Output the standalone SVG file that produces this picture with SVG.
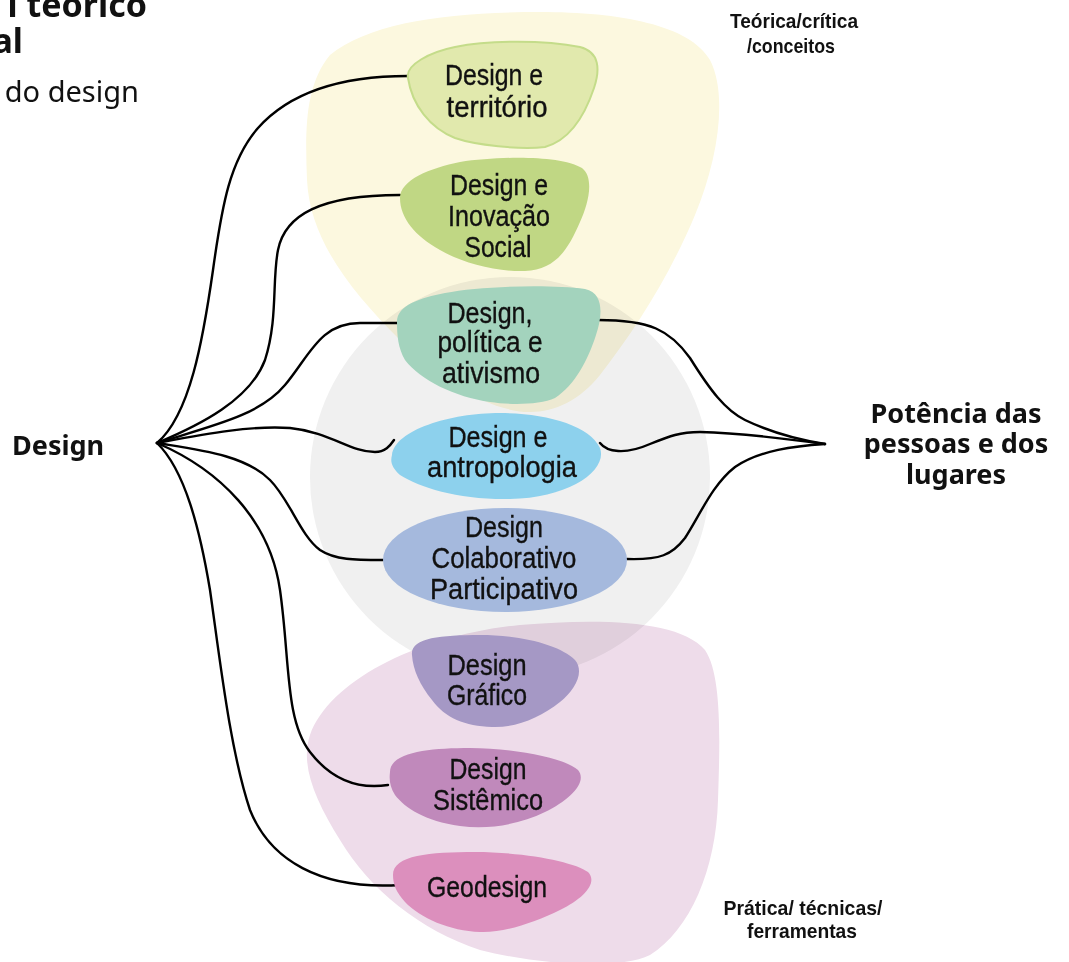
<svg xmlns="http://www.w3.org/2000/svg" width="1069" height="962" viewBox="0 0 1069 962">
  <style>
    .zone { mix-blend-mode: multiply; }
    .wire { fill: none; stroke: #000; stroke-width: 2.4; stroke-linecap: round; }
    .lbl { font-family: "Liberation Sans", "DejaVu Sans Condensed", sans-serif; font-stretch: condensed; font-size: 29px; fill: #111; stroke: #111; stroke-width: 0.35; text-anchor: middle; }
    .tag { font-family: "Liberation Sans", sans-serif; font-stretch: condensed; font-weight: bold; font-size: 21px; fill: #111; text-anchor: middle; }
    .big { font-family: "Noto Sans", "Open Sans", sans-serif; font-weight: bold; font-size: 27px; fill: #111; }
    .head { font-family: "Noto Sans", "Open Sans", sans-serif; fill: #111; text-anchor: end; }
  </style>

  <rect width="1069" height="962" fill="#ffffff"/>

  <!-- heading fragments at the top-left edge -->
  <g id="heading">
    <text class="head" x="147" y="17" font-size="34" font-weight="bold">l teórico</text>
    <text class="head" x="23" y="53" font-size="34" font-weight="bold">al</text>
    <text class="head" x="139" y="102" font-size="29">do design</text>
  </g>

  <!-- background zones -->
  <g id="zones">
    <circle class="zone" cx="510" cy="477" r="200" fill="#f0f0f0"/>
    <path class="zone" fill="#fcf8df" d="M330,55 C370,22 450,12 540,12 C620,12 690,25 710,60 C728,95 718,160 695,215 C670,275 635,330 600,375 C580,400 555,412 530,412 C490,412 440,380 400,340 C350,290 310,240 307,180 C305,130 305,85 330,55 Z"/>
    <path class="zone" fill="#eedcea" d="M310,735 C330,680 420,635 520,625 C600,618 680,620 705,650 C722,675 720,740 718,800 C716,870 690,930 650,955 C620,970 540,965 480,950 C420,930 370,890 340,840 C315,800 300,765 310,735 Z"/>
  </g>

  <!-- connectors -->
  <g id="connectors">
    <path class="wire" d="M157,443 C190,415 203,340 213,270 C222,205 230,160 258,128 C290,92 340,76 408,76"/>
    <path class="wire" d="M157,443 C200,425 250,400 265,360 C278,320 272,280 278,250 C285,215 320,195 400,195"/>
    <path class="wire" d="M157,443 C215,425 260,415 285,385 C310,355 320,323 360,323 L398,323"/>
    <path class="wire" d="M157,443 C200,435 250,425 290,428 C330,432 350,452 375,452 C385,452 390,446 394,440"/>
    <path class="wire" d="M157,443 C200,450 245,455 270,480 C290,500 300,535 320,550 C335,560 355,560 383,560"/>
    <path class="wire" d="M157,443 C220,470 270,520 280,590 C290,660 285,720 310,752 C330,778 355,790 388,785"/>
    <path class="wire" d="M157,443 C185,470 200,530 210,590 C220,660 230,750 250,810 C270,860 320,890 400,885"/>
    <path class="wire" d="M598,320 C650,320 670,330 690,358 C710,390 725,410 745,420 C770,432 800,440 825,444"/>
    <path class="wire" d="M600,443 C607,452 625,455 650,444 C670,436 680,432 700,432 C750,433 790,440 825,444"/>
    <path class="wire" d="M627,559 C660,560 672,555 685,538 C700,515 712,485 735,467 C760,450 795,446 825,444"/>
  </g>

  <g id="design">
    <text class="big" x="12" y="455" font-size="28">Design</text>
  </g>

  <g id="potencia">
    <text class="big" x="956" y="423" text-anchor="middle">Potência das</text>
    <text class="big" x="956" y="453" text-anchor="middle">pessoas e dos</text>
    <text class="big" x="956" y="484" text-anchor="middle">lugares</text>
  </g>

  <g id="teorica">
    <text class="tag" x="794" y="28" textLength="128" lengthAdjust="spacingAndGlyphs">Teórica/crítica</text>
    <text class="tag" x="791" y="53" textLength="88" lengthAdjust="spacingAndGlyphs">/conceitos</text>
  </g>

  <g id="pratica">
    <text class="tag" x="803" y="915" textLength="159" lengthAdjust="spacingAndGlyphs">Prática/ técnicas/</text>
    <text class="tag" x="802" y="938" textLength="110" lengthAdjust="spacingAndGlyphs">ferramentas</text>
  </g>

  <g id="territorio">
    <path fill="#e1e9ad" stroke="#c4dc8a" stroke-width="2" d="M408,78 C405,65 430,52 455,47 C490,40 545,40 580,47 C600,52 600,70 594,88 C585,115 570,140 545,147 C520,150 475,145 455,138 C430,128 412,105 408,78 Z"/>
    <text class="lbl" x="494" y="85" textLength="98" lengthAdjust="spacingAndGlyphs">Design e</text>
    <text class="lbl" x="497" y="117" textLength="101" lengthAdjust="spacingAndGlyphs">território</text>
  </g>

  <g id="inovacao">
    <path fill="#c0d784" d="M400,198 C400,180 430,168 460,162 C500,156 560,155 582,168 C595,178 588,205 580,222 C568,250 555,270 525,271 C495,272 460,262 440,250 C415,236 400,218 400,198 Z"/>
    <text class="lbl" x="499" y="195" textLength="98" lengthAdjust="spacingAndGlyphs">Design e</text>
    <text class="lbl" x="499" y="226" textLength="102" lengthAdjust="spacingAndGlyphs">Inovação</text>
    <text class="lbl" x="498" y="257" textLength="67" lengthAdjust="spacingAndGlyphs">Social</text>
  </g>

  <g id="politica">
    <path fill="#a3d3bd" d="M397,322 C397,305 420,298 445,293 C480,286 550,284 585,289 C605,293 602,318 596,335 C588,360 575,385 555,398 C540,405 510,405 490,402 C455,397 420,380 405,360 C398,348 397,335 397,322 Z"/>
    <text class="lbl" x="490" y="323" textLength="85" lengthAdjust="spacingAndGlyphs">Design,</text>
    <text class="lbl" x="490" y="352" textLength="105" lengthAdjust="spacingAndGlyphs">política e</text>
    <text class="lbl" x="491" y="383" textLength="98" lengthAdjust="spacingAndGlyphs">ativismo</text>
  </g>

  <g id="antropologia">
    <path fill="#8dd1ed" d="M392,455 C395,430 450,413 500,413 C545,413 590,425 600,448 C608,470 570,498 510,499 C460,500 420,488 400,475 C392,468 390,462 392,455 Z"/>
    <text class="lbl" x="498" y="447" textLength="99" lengthAdjust="spacingAndGlyphs">Design e</text>
    <text class="lbl" x="502" y="477" textLength="150" lengthAdjust="spacingAndGlyphs">antropologia</text>
  </g>

  <g id="colaborativo">
    <ellipse cx="505" cy="560" rx="122" ry="52" fill="#a5b9dd"/>
    <text class="lbl" x="504" y="537" textLength="78" lengthAdjust="spacingAndGlyphs">Design</text>
    <text class="lbl" x="504" y="568" textLength="145" lengthAdjust="spacingAndGlyphs">Colaborativo</text>
    <text class="lbl" x="504" y="599" textLength="148" lengthAdjust="spacingAndGlyphs">Participativo</text>
  </g>

  <g id="grafico">
    <path fill="#a598c5" d="M412,655 C410,638 440,635 480,635 C520,635 560,645 575,660 C585,672 575,690 560,702 C540,718 515,728 492,727 C465,726 445,718 432,700 C420,685 413,670 412,655 Z"/>
    <text class="lbl" x="487" y="675" textLength="79" lengthAdjust="spacingAndGlyphs">Design</text>
    <text class="lbl" x="487" y="705" textLength="80" lengthAdjust="spacingAndGlyphs">Gráfico</text>
  </g>

  <g id="sistemico">
    <path fill="#c089bb" d="M390,772 C390,752 430,748 470,748 C515,748 565,758 578,770 C588,782 570,800 545,812 C520,824 490,830 460,826 C425,821 405,808 395,795 C390,787 389,780 390,772 Z"/>
    <text class="lbl" x="488" y="779" textLength="77" lengthAdjust="spacingAndGlyphs">Design</text>
    <text class="lbl" x="488" y="810" textLength="110" lengthAdjust="spacingAndGlyphs">Sistêmico</text>
  </g>

  <g id="geodesign">
    <path fill="#dc8fbd" d="M393,875 C393,855 430,852 475,852 C525,852 575,862 588,872 C598,882 585,898 560,910 C535,922 505,933 480,932 C450,931 420,918 405,902 C396,892 393,884 393,875 Z"/>
    <text class="lbl" x="487" y="897" textLength="120" lengthAdjust="spacingAndGlyphs">Geodesign</text>
  </g>
</svg>
